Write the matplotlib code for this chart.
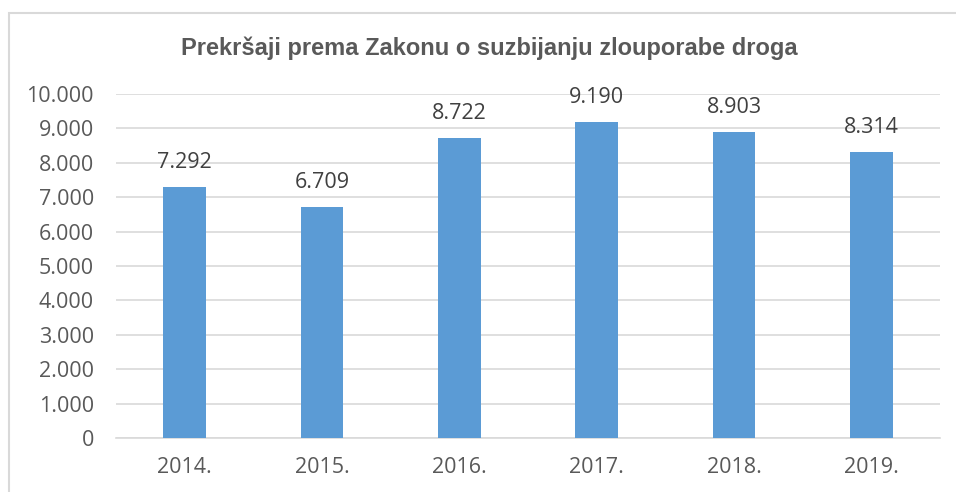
import matplotlib
matplotlib.use("Agg")
import matplotlib.pyplot as plt
from matplotlib.patches import Rectangle
from matplotlib.ticker import FuncFormatter

categories = ["2014.", "2015.", "2016.", "2017.", "2018.", "2019."]
values = [7292, 6709, 8722, 9190, 8903, 8314]
title = "Prekršaji prema Zakonu o suzbijanju zlouporabe droga"

W, H = 956, 492
fig = plt.figure(figsize=(W / 100, H / 100), dpi=100)
fig.patch.set_facecolor("white")

# chart frame
fig.add_artist(Rectangle((9 / W, -0.1), 1.2, (H - 13) / H + 0.1, transform=fig.transFigure,
                         fill=False, edgecolor="#D9D9D9", linewidth=1.5))

ax = fig.add_axes([116 / W, 1 - 438 / H, (940 - 116) / W, (438 - 94) / H])
x = range(len(categories))
ax.bar(x, values, width=0.31, color="#5B9BD5", zorder=3)
ax.set_xlim(-0.5, len(categories) - 0.5)
ax.set_ylim(0, 10000)
ax.set_yticks(range(0, 10001, 1000))
fmt = lambda v, p: f"{int(v):,}".replace(",", ".")
ax.yaxis.set_major_formatter(FuncFormatter(fmt))
ax.set_xticks(list(x))
ax.set_xticklabels(categories)
ax.grid(axis="y", color="#D9D9D9", linewidth=1.2, zorder=0)
for s in ["top", "right", "left"]:
    ax.spines[s].set_visible(False)
ax.spines["bottom"].set_color("#D9D9D9")
ax.spines["bottom"].set_linewidth(1.2)
ax.tick_params(length=0, labelsize=15.5, labelcolor="#595959")
ax.tick_params(axis="y", pad=16)
ax.tick_params(axis="x", pad=14)
for lab in ax.get_xticklabels() + ax.get_yticklabels():
    lab.set_fontfamily("Open Sans")

for xi, v in zip(x, values):
    ax.annotate(fmt(v, None), (xi, v), xytext=(0, 10), textcoords="offset points",
                ha="center", va="bottom", fontsize=15.5, color="#404040", family="Open Sans")

fig.text(489 / W, 1 - 48 / H, title, ha="center", va="center", fontsize=17,
         fontweight="bold", color="#595959", family="Liberation Sans")

fig.savefig("out.png", dpi=100)
